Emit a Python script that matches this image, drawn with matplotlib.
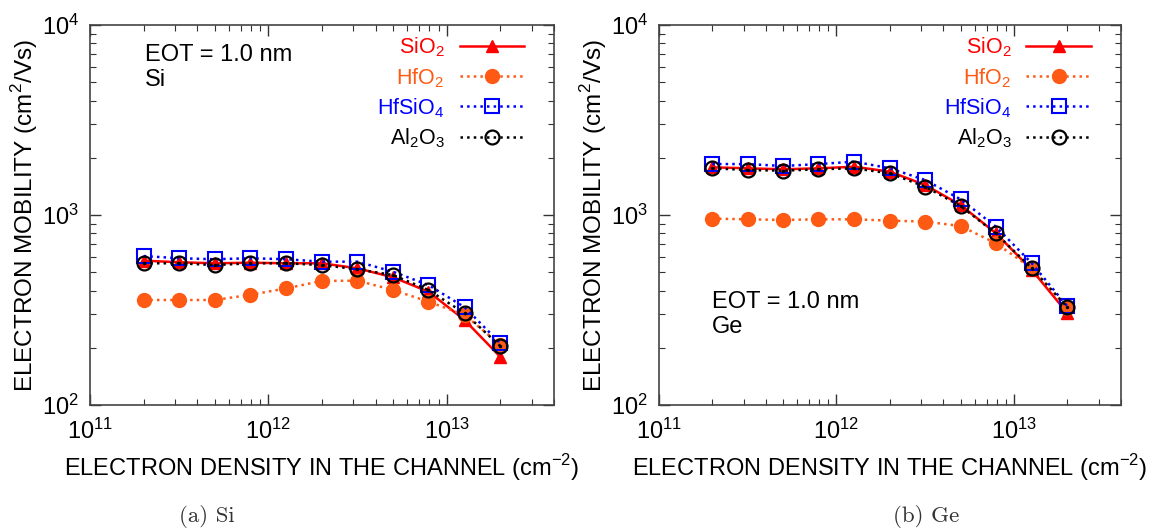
import numpy as np
import matplotlib
matplotlib.use('Agg')
import matplotlib.pyplot as plt
from matplotlib.ticker import LogLocator, NullFormatter

plt.rcParams['font.family'] = ['Liberation Sans', 'DejaVu Sans']
plt.rcParams['mathtext.fontset'] = 'custom'
plt.rcParams['mathtext.rm'] = 'Liberation Sans'

# electron density (cm^-2)
density = [2e11, 3.16e11, 5e11, 7.9e11, 1.26e12, 2e12, 3.16e12, 5e12, 7.9e12, 1.26e13, 2e13]

# mobility (cm^2/Vs), Si channel
si_sio2 = [575, 564, 557, 561, 557, 557, 524, 470, 395, 280, 179]
si_hfo2 = [357, 357, 357, 380, 411, 450, 451, 403, 350, 298, 207]
si_hfsio4 = [608, 592, 585, 592, 585, 568, 568, 503, 428, 327, 211]
si_al2o3 = [557, 557, 545, 557, 557, 545, 518, 483, 403, 304, 204]

# mobility (cm^2/Vs), Ge channel
ge_sio2 = [1782, 1761, 1740, 1761, 1795, 1690, 1439, 1129, 802, 514, 304]
ge_hfo2 = [957, 949, 942, 949, 949, 934, 923, 875, 710, 524, 323]
ge_hfsio4 = [1854, 1854, 1811, 1854, 1909, 1761, 1528, 1210, 868, 557, 330]
ge_al2o3 = [1761, 1725, 1711, 1740, 1761, 1656, 1409, 1115, 800, 524, 327]

labels = ['SiO$_2$', 'HfO$_2$', 'HfSiO$_4$', 'Al$_2$O$_3$']
panels = [('Si', [si_sio2, si_hfo2, si_hfsio4, si_al2o3], (0.118, 0.95), '(a) Si', 0.18),
          ('Ge', [ge_sio2, ge_hfo2, ge_hfsio4, ge_al2o3], (0.115, 0.30), '(b) Ge', 0.805)]

orange = '#ff5a14'
styles = [dict(color='red', ls='-', lw=1.8, marker='^', ms=8, mfc='red', mec='red'),
          dict(color=orange, ls=':', lw=1.8, marker='o', ms=10, mfc=orange, mec=orange),
          dict(color='blue', ls=':', lw=1.8, marker='s', ms=10, mfc='none', mec='blue', mew=1.5),
          dict(color='black', ls=':', lw=1.8, marker='o', ms=10, mfc='none', mec='black', mew=1.6)]

fig = plt.figure(figsize=(11.5, 5.31), dpi=100)
positions = [[0.0783, 0.2373, 0.4035, 0.7156], [0.573, 0.2373, 0.4017, 0.7156]]

for pos, (name, series, eot_xy, caption, cap_x) in zip(positions, panels):
    ax = fig.add_axes(pos)
    for s, lab, st in zip(series, labels, styles):
        ax.plot(density, s, label=lab, **st)
    # centre dot of the open circles
    ax.plot(density, series[3], ls='none', marker='.', ms=3, color='black')

    ax.set_xscale('log')
    ax.set_yscale('log')
    ax.set_xlim(1e11, 4e13)
    ax.set_ylim(1e2, 1e4)
    ax.xaxis.set_minor_locator(LogLocator(base=10, subs=np.arange(2, 10)))
    ax.yaxis.set_minor_locator(LogLocator(base=10, subs=np.arange(2, 10)))
    ax.xaxis.set_minor_formatter(NullFormatter())
    ax.yaxis.set_minor_formatter(NullFormatter())
    ax.tick_params(which='both', direction='in', top=True, right=True, colors='#333333',
                   labelcolor='black', labelsize=17)
    ax.tick_params(which='major', length=8, width=1)
    ax.tick_params(which='minor', length=4, width=0.8)
    ax.tick_params(axis='x', pad=10)
    ax.tick_params(axis='y', pad=8)
    for sp in ax.spines.values():
        sp.set_color('#444444')
        sp.set_linewidth(1.2)

    ax.set_xlabel('ELECTRON DENSITY IN THE CHANNEL (cm$^{-2}$)', fontsize=17, va='top')
    ax.set_ylabel('ELECTRON MOBILITY (cm$^2$/Vs)', fontsize=17.5)
    ax.xaxis.set_label_coords(0.5, -0.125)
    ax.yaxis.set_label_coords(-0.108, 0.5)

    ax.text(eot_xy[0], eot_xy[1], 'EOT = 1.0 nm\n' + name, transform=ax.transAxes,
            fontsize=17, va='top', ha='left', linespacing=1.15)

    ax.legend(loc='upper right', frameon=False, markerfirst=False, labelcolor='linecolor',
              fontsize=15.5, handlelength=3.0, handletextpad=0.7, labelspacing=0.3,
              borderaxespad=0.3, bbox_to_anchor=(0.968, 1.011))

    fig.text(cap_x, 0.028, caption, family=['cmr10', 'DejaVu Serif'],
             fontsize=16.5, ha='center', va='center', color='#333333')

plt.savefig('out.png', dpi=100)
